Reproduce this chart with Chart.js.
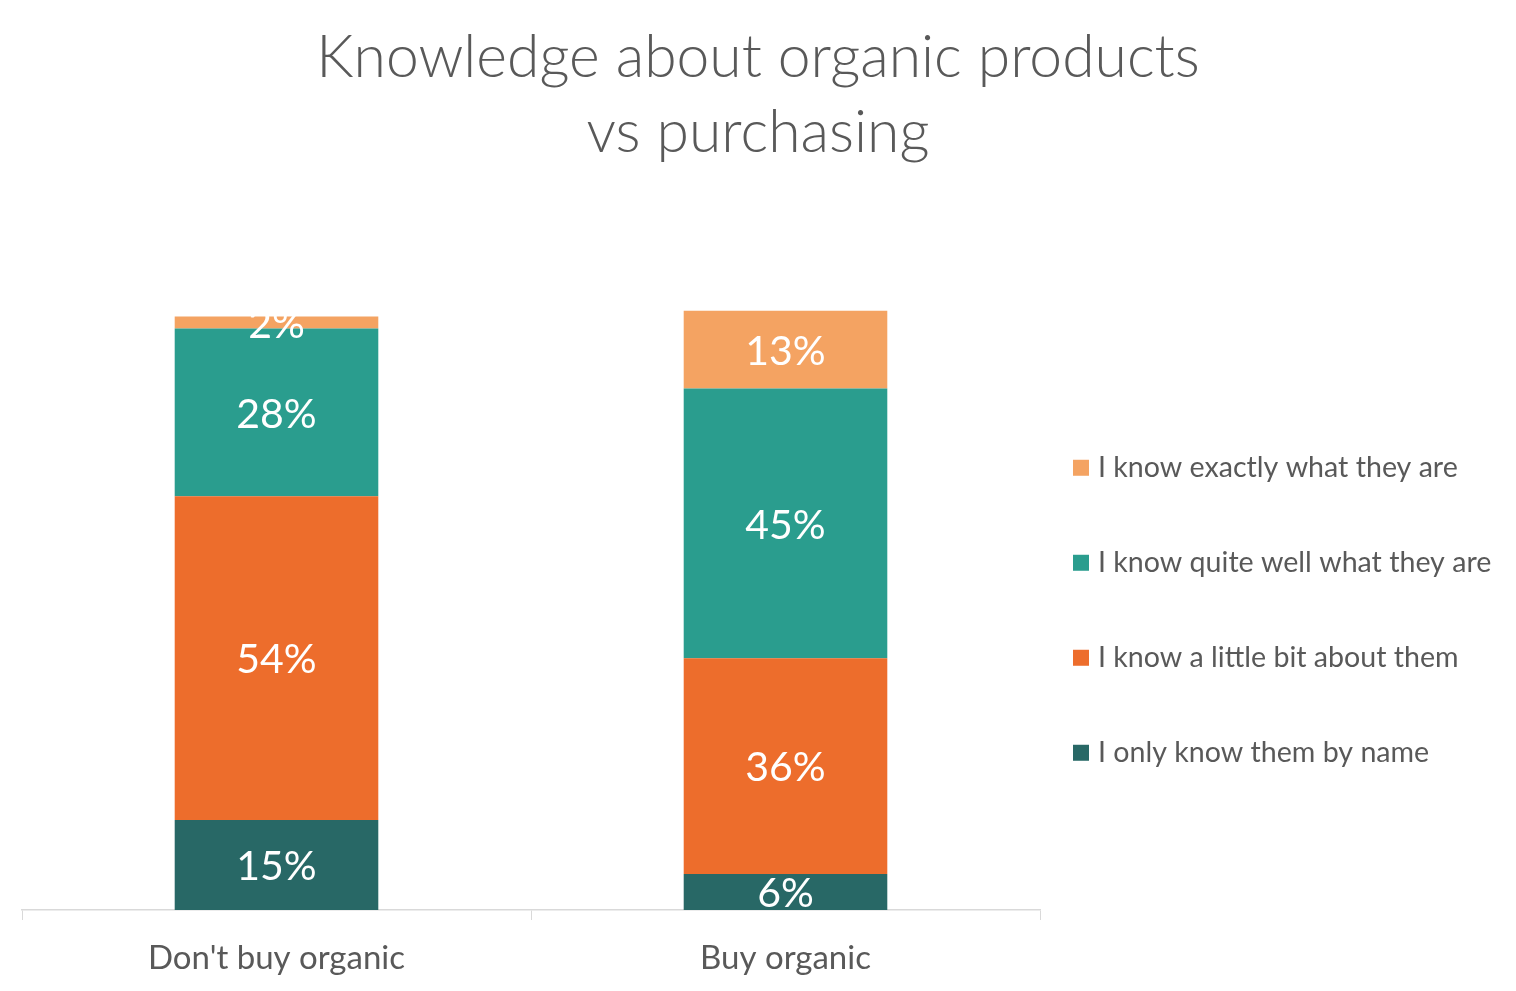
<!DOCTYPE html>
<html>
<head>
<meta charset="utf-8">
<script src="https://cdn.jsdelivr.net/npm/chart.js@4"></script>
<style>
html,body{margin:0;padding:0;background:#fff;}
#wrap{width:1516px;height:991px;}
</style>
</head>
<body>
<div id="wrap"><canvas id="c" width="1516" height="991"></canvas></div>
<script>
const categories = ["Don't buy organic", "Buy organic"];
const seriesNames = ["I only know them by name", "I know a little bit about them", "I know quite well what they are", "I know exactly what they are"];
const byName = [15, 6];
const littleBit = [54, 36];
const quiteWell = [28, 45];
const exactly = [2, 13];
const seriesColors = ["#286866", "#ED6D2C", "#2A9D8E", "#F4A362"];

const FONT = "Lato, 'Open Sans', sans-serif";
const TEXT = "#595959";

const labelPlugin = {
  id: 'segLabels',
  afterDatasetsDraw(chart) {
    const ctx = chart.ctx;
    ctx.save();
    ctx.fillStyle = '#ffffff';
    ctx.font = "41px " + FONT;
    ctx.textAlign = 'center';
    ctx.textBaseline = 'middle';
    chart.data.datasets.forEach((ds, i) => {
      const meta = chart.getDatasetMeta(i);
      meta.data.forEach((el, j) => {
        const v = ds.data[j];
        const y = (el.y + el.base) / 2;
        ctx.fillText(Math.round(v) + '%', el.x, y + 2);
      });
    });
    ctx.restore();
  }
};

const legendPlugin = {
  id: 'sideLegend',
  afterDraw(chart) {
    const ctx = chart.ctx;
    const ca = chart.chartArea;
    const ds = chart.data.datasets;
    const n = ds.length;
    const spacing = 95;
    const cy = (ca.top + ca.bottom) / 2;
    ctx.save();
    ctx.font = "28.6px " + FONT;
    ctx.textBaseline = 'middle';
    ctx.textAlign = 'left';
    for (let k = 0; k < n; k++) {
      const d = ds[n - 1 - k];
      const y = cy + (k - (n - 1) / 2) * spacing;
      const x = ca.right + 33;
      ctx.fillStyle = d.backgroundColor;
      ctx.fillRect(x, y - 8, 16, 16);
      ctx.fillStyle = TEXT;
      ctx.fillText(d.label, x + 25, y);
    }
    ctx.restore();
  }
};

const datasets = [byName, littleBit, quiteWell, exactly].map((arr, i) => ({
  label: seriesNames[i],
  data: arr,
  backgroundColor: seriesColors[i],
  borderWidth: 0,
  categoryPercentage: 1.0,
  barPercentage: 0.4
}));

new Chart(document.getElementById('c'), {
  type: 'bar',
  data: { labels: categories, datasets: datasets },
  options: {
    responsive: false,
    animation: false,
    devicePixelRatio: 1,
    layout: { padding: 0 },
    plugins: {
      legend: { display: false },
      tooltip: { enabled: false },
      title: {
        display: true,
        text: ['Knowledge about organic products', 'vs purchasing'],
        color: TEXT,
        font: { family: FONT, size: 58.8, weight: '300', lineHeight: 1.28 },
        padding: { top: 20, bottom: 140 }
      }
    },
    scales: {
      x: {
        stacked: true,
        grid: { display: true, drawOnChartArea: false, drawTicks: true, tickLength: 10, color: '#D9D9D9', offset: true },
        border: { display: true, color: '#D9D9D9', width: 1.5 },
        ticks: { color: TEXT, padding: 19, font: { family: FONT, size: 33 } },
        afterFit(scale) { scale.height = 81; }
      },
      y: {
        stacked: true,
        position: 'left',
        min: 0,
        max: 100,
        grid: { display: false },
        border: { display: false },
        ticks: { display: false },
        afterFit(scale) { scale.width = 22; }
      },
      legendSpace: {
        type: 'linear',
        position: 'right',
        grid: { display: false },
        border: { display: false },
        ticks: { display: false },
        afterFit(scale) { scale.width = 476; }
      }
    }
  },
  plugins: [labelPlugin, legendPlugin]
});
</script>
</body>
</html>
